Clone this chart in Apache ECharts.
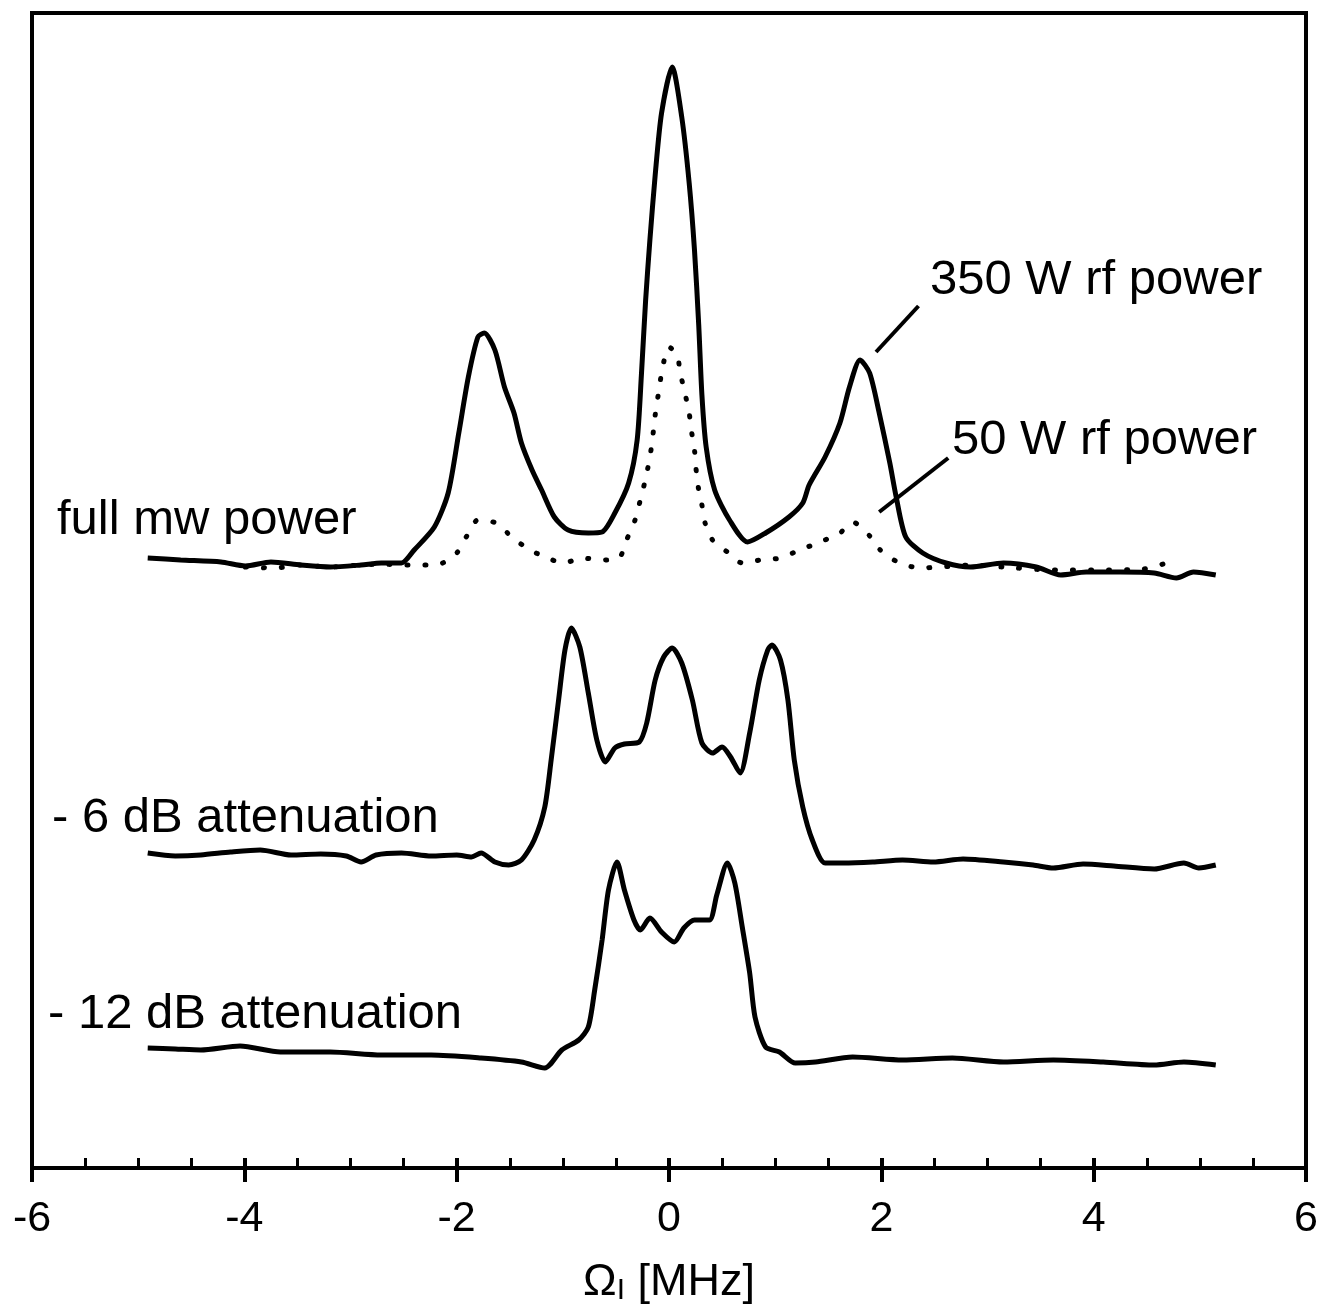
<!DOCTYPE html>
<html>
<head>
<meta charset="utf-8">
<script src="https://cdn.jsdelivr.net/npm/echarts@6/dist/echarts.min.js"></script>
<style>
html,body{margin:0;padding:0;background:#fff;}
#chart{width:1326px;height:1311px;}
</style>
</head>
<body>
<div id="chart"></div>
<script>
// x: Omega_I [MHz], y: signal intensity (arbitrary units)
const xTicks = [-6, -4, -2, 0, 2, 4, 6];

const rf350 = [[-4.91,607],[-4.60,605],[-4.22,603],[-3.99,599],[-3.75,603],[-3.47,600],[-3.19,598],[-2.90,600],[-2.71,602],[-2.52,602],[-2.40,615],[-2.21,638],[-2.08,672],[-1.98,732],[-1.89,788],[-1.80,828],[-1.74,832],[-1.64,815],[-1.55,778],[-1.46,752],[-1.39,722],[-1.29,695],[-1.20,675],[-1.08,648],[-0.95,635],[-0.76,632],[-0.63,633],[-0.51,652],[-0.38,682],[-0.30,725],[-0.26,790],[-0.22,865],[-0.18,925],[-0.13,990],[-0.07,1052],[0.03,1098],[0.12,1048],[0.19,982],[0.24,915],[0.28,840],[0.31,770],[0.35,718],[0.43,675],[0.57,645],[0.74,623],[0.91,632],[1.13,648],[1.26,662],[1.32,680],[1.47,708],[1.61,742],[1.70,778],[1.80,805],[1.89,792],[1.98,752],[2.08,702],[2.14,668],[2.23,628],[2.39,612],[2.61,602],[2.84,598],[3.15,602],[3.46,598],[3.69,590],[3.93,593],[4.25,593],[4.57,592],[4.78,587],[4.94,593],[5.15,590]];

const rf50 = [[-3.99,598],[-3.71,597],[-3.47,600],[-3.19,598],[-2.90,600],[-2.71,601],[-2.52,600],[-2.36,600],[-2.19,600],[-2.00,612],[-1.91,628],[-1.80,645],[-1.63,642],[-1.48,628],[-1.34,617],[-1.17,608],[-0.99,602],[-0.82,607],[-0.63,605],[-0.47,607],[-0.40,625],[-0.32,645],[-0.27,665],[-0.23,682],[-0.19,702],[-0.16,722],[-0.13,750],[-0.09,778],[-0.06,798],[0.00,818],[0.08,810],[0.10,795],[0.15,772],[0.19,752],[0.21,735],[0.24,715],[0.26,690],[0.28,675],[0.31,660],[0.34,642],[0.41,625],[0.55,613],[0.69,602],[0.86,605],[1.05,607],[1.23,615],[1.40,622],[1.61,632],[1.73,643],[1.90,628],[1.99,615],[2.17,602],[2.37,597],[2.55,598],[2.86,600],[3.15,598],[3.62,595],[4.09,595],[4.47,596],[4.77,605]];

const att6 = [[-4.91,312],[-4.65,309],[-4.41,310],[-4.13,313],[-3.85,315],[-3.56,310],[-3.28,311],[-3.04,309],[-2.90,303],[-2.76,310],[-2.52,312],[-2.24,309],[-2.00,310],[-1.86,308],[-1.77,312],[-1.64,303],[-1.51,300],[-1.39,305],[-1.27,325],[-1.17,358],[-1.11,405],[-1.04,465],[-0.98,515],[-0.92,537],[-0.84,518],[-0.76,472],[-0.68,425],[-0.60,403],[-0.51,417],[-0.42,421],[-0.28,423],[-0.21,442],[-0.13,485],[-0.05,508],[0.03,517],[0.12,502],[0.22,465],[0.31,422],[0.41,412],[0.50,418],[0.58,408],[0.67,392],[0.76,432],[0.85,485],[0.93,515],[0.97,520],[1.05,505],[1.12,465],[1.18,405],[1.26,358],[1.35,325],[1.47,302],[1.64,302],[1.92,303],[2.20,305],[2.49,303],[2.77,306],[3.15,303],[3.43,300],[3.62,297],[3.90,301],[4.19,299],[4.57,296],[4.85,302],[4.99,297],[5.15,300]];

const att12 = [[-4.91,117],[-4.65,116],[-4.41,115],[-4.04,119],[-3.66,113],[-3.19,113],[-2.71,110],[-2.24,110],[-1.77,107],[-1.39,103],[-1.17,97],[-1.01,115],[-0.85,125],[-0.76,138],[-0.70,175],[-0.63,225],[-0.57,275],[-0.49,303],[-0.42,275],[-0.33,245],[-0.27,235],[-0.18,247],[-0.07,233],[0.05,223],[0.14,237],[0.24,245],[0.38,245],[0.45,270],[0.55,302],[0.62,282],[0.69,238],[0.76,192],[0.81,148],[0.91,118],[1.04,113],[1.19,102],[1.38,103],[1.73,108],[2.20,105],[2.67,107],[3.15,103],[3.62,105],[4.09,103],[4.57,100],[4.85,103],[5.15,100]];

const leader350 = [[1.95,813],[2.35,859]];
const leader50 = [[1.98,653],[2.63,707]];

const curveLabels = ['full mw power', '- 6 dB attenuation', '- 12 dB attenuation', '350 W rf power', '50 W rf power'];

const chart = echarts.init(document.getElementById('chart'), null, {renderer: 'canvas'});
const FONT = '"Liberation Sans", Arial, Helvetica, sans-serif';
const lineBase = {type: 'line', xAxisIndex: 0, yAxisIndex: 0, showSymbol: false, symbol: 'none', silent: true, animation: false};

const option = {
  backgroundColor: '#fff',
  animation: false,
  grid: {left: 32, right: 20, top: 13, bottom: 143, show: true, borderColor: '#000', borderWidth: 4, backgroundColor: 'transparent'},
  xAxis: [{
    type: 'value', min: -6, max: 6, interval: 2, position: 'bottom',
    axisLine: {show: true, onZero: false, lineStyle: {color: '#000', width: 4}},
    axisTick: {show: true, inside: true, length: 10, lineStyle: {color: '#000', width: 4}},
    minorTick: {show: true, splitNumber: 4, length: 10, lineStyle: {color: '#000', width: 3}},
    splitLine: {show: false},
    axisLabel: {show: true, margin: 30, fontSize: 43, color: '#000', fontFamily: FONT},
    name: 'Ω{s|I} [MHz]', nameLocation: 'middle', nameGap: 92,
    nameTextStyle: {fontSize: 45, color: '#000', fontFamily: FONT,
      rich: {s: {fontSize: 30, color: '#000', fontFamily: FONT, verticalAlign: 'bottom', padding: [16, 0, 0, 0]}}}
  }, {
    type: 'value', min: -6, max: 6, interval: 2, position: 'bottom', gridIndex: 0,
    axisLine: {show: false, onZero: false},
    axisTick: {show: true, inside: false, length: 14, lineStyle: {color: '#000', width: 4}},
    axisLabel: {show: false}, splitLine: {show: false}
  }],
  yAxis: {type: 'value', min: -3, max: 1152, show: false, splitLine: {show: false}},
  series: [
    Object.assign({}, lineBase, {name: '350 W rf power', data: rf350, smooth: 0.25, lineStyle: {color: '#000', width: 5}}),
    Object.assign({}, lineBase, {name: '50 W rf power', data: rf50, smooth: 0.25, lineStyle: {color: '#000', width: 5, type: [1, 17], cap: 'round'}}),
    Object.assign({}, lineBase, {name: '- 6 dB attenuation', data: att6, smooth: 0.25, lineStyle: {color: '#000', width: 5}}),
    Object.assign({}, lineBase, {name: '- 12 dB attenuation', data: att12, smooth: 0.25, lineStyle: {color: '#000', width: 5}}),
    Object.assign({}, lineBase, {name: 'leader350', data: leader350, lineStyle: {color: '#000', width: 4}}),
    Object.assign({}, lineBase, {name: 'leader50', data: leader50, lineStyle: {color: '#000', width: 4}})
  ],
  graphic: [
    {type: 'text', left: 57, top: 496, style: {text: curveLabels[0], font: '49px ' + FONT, fill: '#000'}},
    {type: 'text', left: 52, top: 794, style: {text: curveLabels[1], font: '49px ' + FONT, fill: '#000'}},
    {type: 'text', left: 48, top: 990, style: {text: curveLabels[2], font: '49px ' + FONT, fill: '#000'}},
    {type: 'text', left: 930, top: 256, style: {text: curveLabels[3], font: '49px ' + FONT, fill: '#000'}},
    {type: 'text', left: 952, top: 416, style: {text: curveLabels[4], font: '49px ' + FONT, fill: '#000'}}
  ]
};
chart.setOption(option);
</script>
</body>
</html>
